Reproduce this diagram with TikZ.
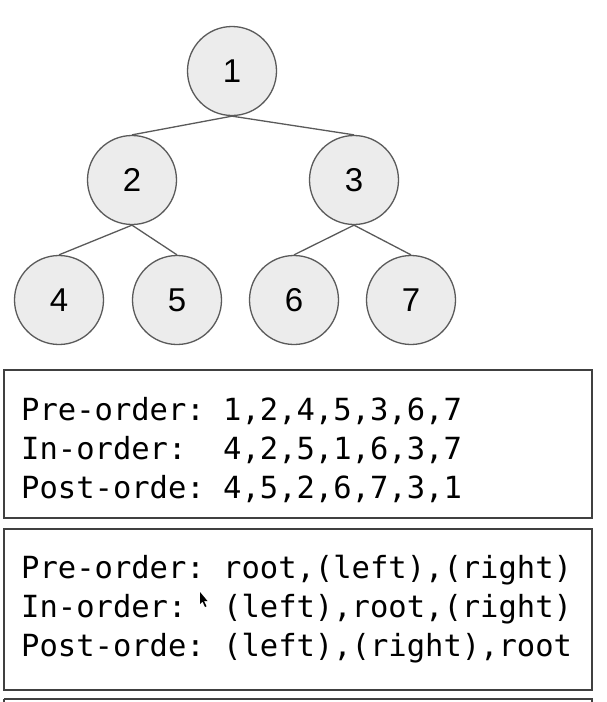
\documentclass[tikz,border=0pt]{standalone}
\usepackage{fontspec}
\setmainfont{Liberation Sans}
\setmonofont{DejaVu Sans Mono}
\definecolor{nodefill}{HTML}{ECECEC}
\definecolor{nodeline}{HTML}{5A5A5A}
\definecolor{boxline}{HTML}{404040}
\begin{document}
\begin{tikzpicture}[x=1pt,y=-1pt,
  treenode/.style={circle,draw=nodeline,fill=nodefill,line width=1.3pt,minimum size=89pt,inner sep=0pt,font=\fontsize{33}{33}\selectfont},
  treeedge/.style={draw=nodeline,line width=1.3pt},
  codebox/.style={draw=boxline,line width=1.3pt},
  codeline/.style={anchor=base west,inner sep=0pt,font=\ttfamily\fontsize{30.5}{30.5}\selectfont}]
\useasboundingbox (0,0) rectangle (606,702);
\fill[white] (0,0) rectangle (606,702);
% tree
\node[treenode] (n1) at (232,71) {1};
\node[treenode] (n2) at (132,180) {2};
\node[treenode] (n3) at (354,180) {3};
\node[treenode] (n4) at (59,300) {4};
\node[treenode] (n5) at (177,300) {5};
\node[treenode] (n6) at (294,300) {6};
\node[treenode] (n7) at (411,300) {7};
\draw[treeedge] (n1.south) -- (n2.north);
\draw[treeedge] (n1.south) -- (n3.north);
\draw[treeedge] (n2.south) -- (n4.north);
\draw[treeedge] (n2.south) -- (n5.north);
\draw[treeedge] (n3.south) -- (n6.north);
\draw[treeedge] (n3.south) -- (n7.north);
% boxes
\draw[codebox] (4,370) rectangle (592,518);
\draw[codebox] (4,529) rectangle (592,690);
\draw[codebox] (4,699) -- (592,699) -- (592,710);
\draw[codebox] (4,699) -- (4,710);
\node[codeline] (a1) at (21,420) {Pre-order:\ 1,2,4,5,3,6,7};
\node[codeline] (a2) at (21,459) {In-order:\ \ 4,2,5,1,6,3,7};
\node[codeline] (a3) at (21,498) {Post-orde:\ 4,5,2,6,7,3,1};
\node[codeline] (b1) at (21,578) {Pre-order:\ root,(left),(right)};
\node[codeline] (b2) at (21,617) {In-order:\ \ (left),root,(right)};
\node[codeline] (b3) at (21,656) {Post-orde:\ (left),(right),root};
% mouse cursor
\fill[black] (200,592) -- (200,604) -- (202.5,601.5) -- (205,607) -- (206.5,606.3) -- (204,601) -- (207.5,601) -- cycle;
\end{tikzpicture}
\end{document}
